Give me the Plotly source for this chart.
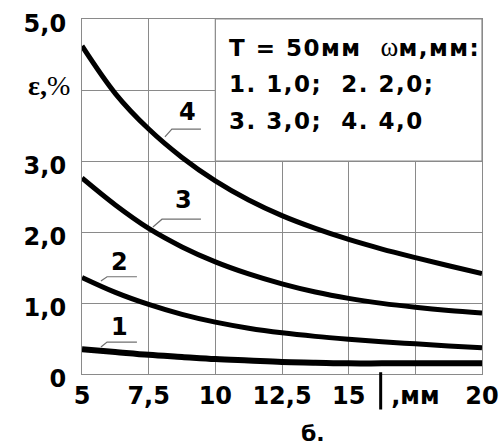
import plotly.graph_objects as go

# ---- data ----
x_mm = [5, 6.25, 7.5, 8.75, 10, 11.25, 12.5, 13.75, 15, 16.25, 17.5, 18.75, 20]
eps_1 = [0.35, 0.31, 0.27, 0.24, 0.21, 0.19, 0.17, 0.16, 0.15, 0.15, 0.15, 0.15, 0.15]
eps_2 = [1.36, 1.15, 0.98, 0.84, 0.73, 0.645, 0.58, 0.53, 0.49, 0.455, 0.425, 0.395, 0.37]
eps_3 = [2.76, 2.38, 2.05, 1.79, 1.58, 1.41, 1.27, 1.155, 1.065, 0.995, 0.94, 0.895, 0.86]
eps_4 = [4.62, 3.95, 3.45, 3.05, 2.72, 2.45, 2.23, 2.05, 1.895, 1.76, 1.64, 1.525, 1.415]
series = [eps_1, eps_2, eps_3, eps_4]
series_names = ["1", "2", "3", "4"]

x_tickvals = [5, 7.5, 10, 12.5, 15, 17.5, 20]
x_ticktext = ["5", "7,5", "10", "12,5", "15", ",мм", "20"]
y_tickvals = [0, 1, 2, 3, 4, 5]
y_ticktext = ["0", "1,0", "2,0", "3,0", "", "5,0"]

# curve label positions (label text pos, leader path points)
label_text_pos = [(6.39, 0.66), (6.39, 1.58), (8.79, 2.45), (8.94, 3.69)]
leader_paths = [
    [(5.71, 0.38), (5.94, 0.45), (7.06, 0.45)],
    [(5.71, 1.31), (5.94, 1.37), (7.06, 1.37)],
    [(7.66, 2.07), (8.00, 2.18), (9.46, 2.18)],
    [(8.11, 3.34), (8.37, 3.45), (9.46, 3.45)],
]

SP = "letter-spacing:1.5px"
legend_lines = [
    f"<span style='{SP}'>T = 50мм  </span><span style='font-family:Liberation Serif;font-weight:normal;font-size:27px'>ω</span><span style='{SP}'>м,мм:</span>",
    f"<span style='{SP}'>1. 1,0;  2. 2,0;</span>",
    f"<span style='{SP}'>3. 3,0;  4. 4,0</span>",
]
legend_y = [4.61, 4.08, 3.56]

BOLD = "DejaVu Sans"
GRID = "#8a8a8a"

fig = go.Figure()

for ys, name in zip(series, series_names):
    fig.add_trace(go.Scatter(
        x=x_mm, y=ys, mode="lines", name=name,
        line=dict(color="black", width=6 if name == "1" else 5, shape="spline", smoothing=1.0),
        showlegend=False, hoverinfo="skip",
    ))

# legend box
fig.add_shape(type="rect", x0=10, x1=20, y0=3, y1=5, xref="x", yref="y",
              fillcolor="white", line=dict(color=GRID, width=1.2), layer="between")

for path in leader_paths:
    d = "M " + " L ".join(f"{px},{py}" for px, py in path)
    fig.add_shape(type="path", path=d, xref="x", yref="y",
                  line=dict(color="#707070", width=1.2))

for (tx, ty), name in zip(label_text_pos, series_names):
    fig.add_annotation(x=tx, y=ty, text=name, showarrow=False, xref="x", yref="y",
                       font=dict(family=BOLD, size=24, color="black", weight="bold"))

for txt, ly in zip(legend_lines, legend_y):
    fig.add_annotation(x=10.42, y=ly, text=txt, showarrow=False, xref="x", yref="y",
                       xanchor="left", yanchor="middle",
                       font=dict(family=BOLD, size=23, color="black", weight="bold"))

# y axis label in place of 4,0
fig.add_annotation(x=-0.025, y=4, yshift=5, xref="paper", yref="y", xanchor="right",
                   text="<b>ε,</b><span style='font-weight:normal'>%</span>", showarrow=False,
                   font=dict(family="Liberation Serif", size=28, color="black"))

# the "l" symbol before ,мм
fig.add_shape(type="line", x0=16.2, x1=16.2, y0=0.005, y1=-0.10, xref="x", yref="paper",
              line=dict(color="black", width=3))

# subfigure label
fig.add_annotation(x=0.578, y=-0.168, xref="paper", yref="paper", text="б.",
                   xanchor="center", yanchor="middle",
                   showarrow=False, font=dict(family=BOLD, size=22, color="black", weight="bold"))

fig.update_xaxes(range=[5, 20], tickvals=x_tickvals, ticktext=x_ticktext, automargin=False,
                 showgrid=True, gridcolor=GRID, gridwidth=1.2,
                 showline=True, linecolor=GRID, linewidth=1.2, mirror=True,
                 zeroline=False, ticks="", ticklabelstandoff=0,
                 tickfont=dict(family=BOLD, size=24, color="black", weight="bold"))
fig.update_yaxes(range=[0, 5], tickvals=y_tickvals, ticktext=y_ticktext, automargin=False,
                 showgrid=True, gridcolor=GRID, gridwidth=1.2,
                 showline=True, linecolor=GRID, linewidth=1.2, mirror=True,
                 zeroline=False, ticks="", ticklabelstandoff=10, ticklabelshift=5,
                 tickfont=dict(family=BOLD, size=24, color="black", weight="bold"))

fig.update_layout(width=500, height=447, margin=dict(l=82, r=18, t=19, b=73),
                  plot_bgcolor="white", paper_bgcolor="white")

fig.write_html("out.html")
